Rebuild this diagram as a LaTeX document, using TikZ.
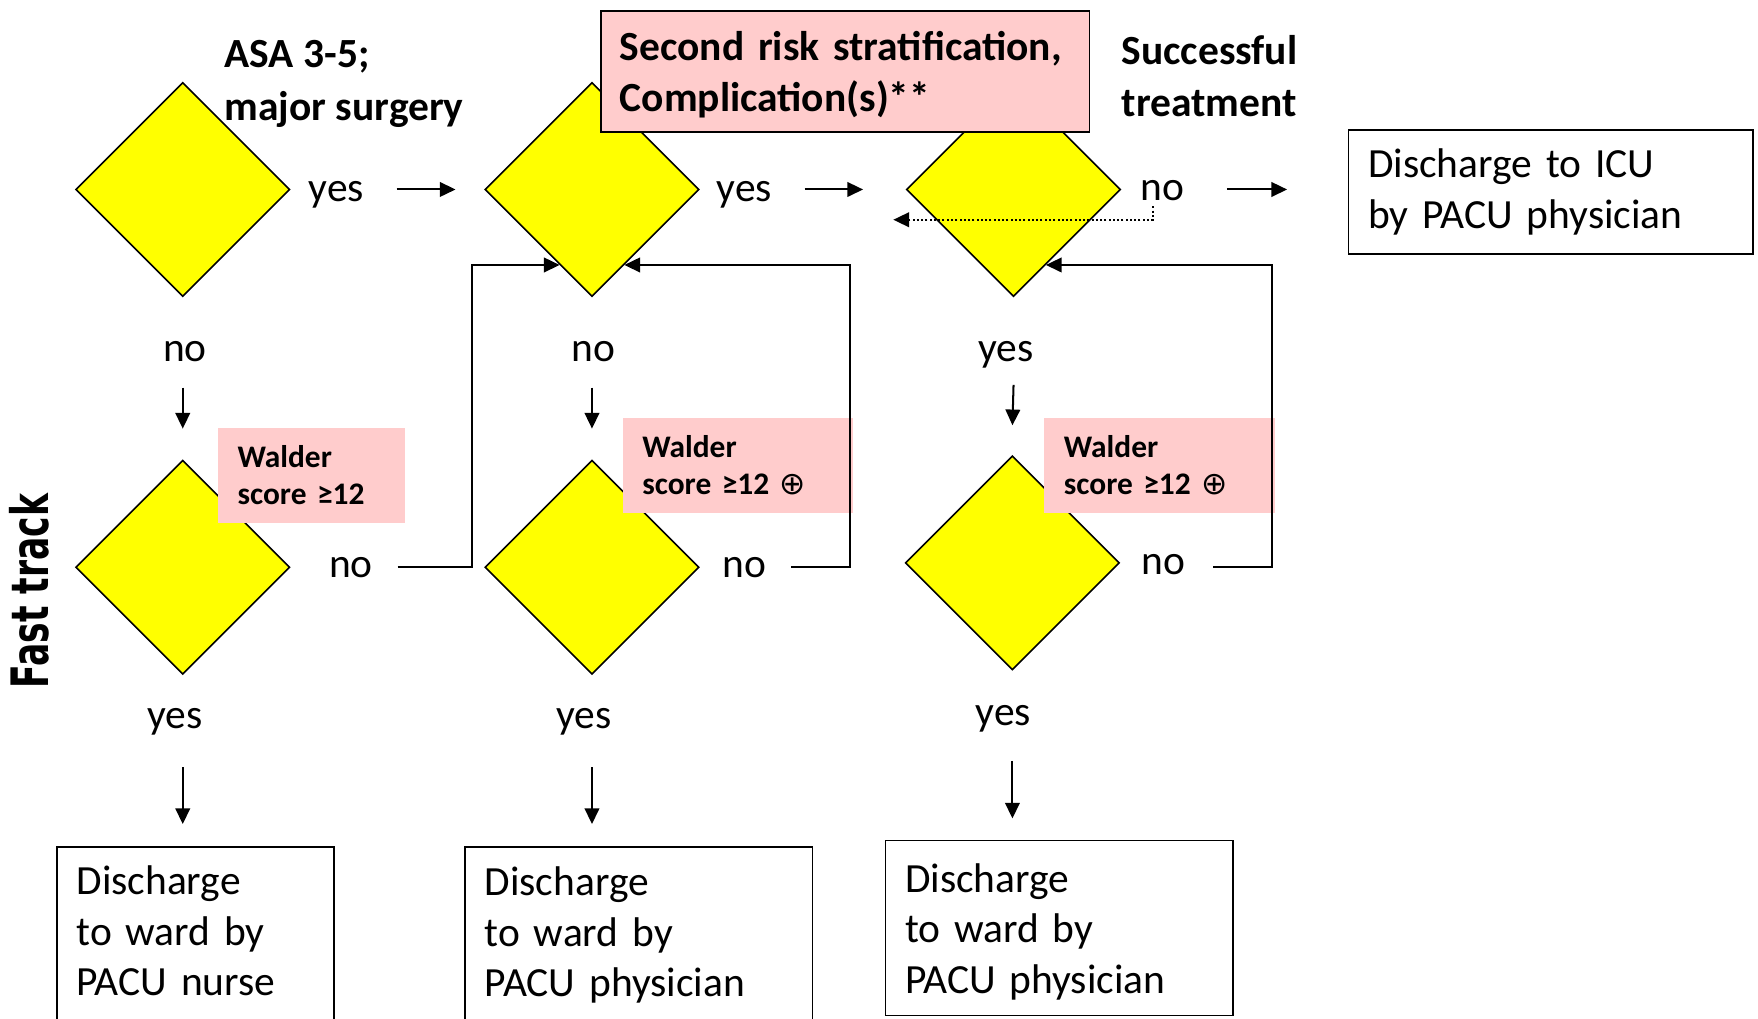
\documentclass[tikz,border=0pt]{standalone}
\usepackage{fontspec}
\usepackage{graphicx}
\setmainfont{Carlito}
\newfontfamily\symbolfont{DejaVu Sans}
\newfontfamily\sidefont{DejaVu Sans}
\usetikzlibrary{shapes.geometric,arrows.meta,calc}
\definecolor{decisionfill}{RGB}{255,255,0}
\definecolor{notefill}{RGB}{255,204,204}
\begin{document}
\begin{tikzpicture}[x=0.5pt,y=-0.5pt,
  decision/.style={diamond,draw=black,line width=0.7pt,fill=decisionfill,
    minimum width=95.5pt,minimum height=95.5pt,inner sep=0pt},
  answer/.style={font=\fontsize{18.5}{22.5}\selectfont,inner sep=0pt,anchor=base},
  heading/.style={font=\fontsize{18.5}{23.5}\selectfont\bfseries,align=left,
    inner sep=0pt,anchor=west},
  note/.style={fill=notefill,font=\fontsize{14}{16.5}\selectfont\bfseries,
    align=left,anchor=north west,inner xsep=8.75pt,inner ysep=0pt,
    minimum height=42.5pt,text width=#1},
  outcome/.style={draw=black,line width=0.75pt,fill=white,
    font=\fontsize{18.5}{22.5}\selectfont,align=left,anchor=north west,
    inner xsep=8.75pt,inner ysep=0pt,text width=#1},
  flow/.style={line width=0.9pt,-{Triangle[length=7pt,width=6.5pt]}},
  dotflow/.style={line width=0.9pt,densely dotted,-{Triangle[length=7pt,width=6.5pt]}}
]
\useasboundingbox (0,0) rectangle (1568,908);

% decision diamonds
\node[decision] (d1) at (163,169) {};
\node[decision] (d2) at (528,169) {};
\node[decision] (d3) at (904,169) {};
\node[decision] (d4) at (163,506) {};
\node[decision] (d5) at (528,506) {};
\node[decision] (d6) at (903,502) {};

% questions and notes
\node[heading] (asa) at (200,75) {ASA 3-5;\\major surgery};
\node[heading] (succ) at (1000,68) {Successful\\treatment};
\node[draw=black,line width=0.8pt,fill=notefill,
      font=\fontsize{18.5}{22.5}\selectfont\bfseries,align=left,anchor=north west,
      inner xsep=8.5pt,inner ysep=0pt,text width=201pt,minimum height=54pt]
  (risk) at (535,9) {\rule{0pt}{16pt}Second risk stratification,\\Complication(s)**};
\node[note=66pt] (w1) at (194,381) {Walder\\score ≥12};
\node[note=85pt] (w2) at (555,372) {Walder\\score ≥12 {\symbolfont\mdseries ⊕}};
\node[note=85.5pt] (w3) at (931,372) {Walder\\score ≥12 {\symbolfont\mdseries ⊕}};

% outcomes
\node[outcome=106pt,minimum height=78.5pt] (o1) at (50,755)
  {Discharge\\to ward by\\PACU nurse\rule[-4pt]{0pt}{1pt}};
\node[outcome=137.5pt,minimum height=78.5pt] (o2) at (414,755)
  {Discharge\\to ward by\\PACU physician};
\node[outcome=137.5pt,minimum height=78pt] (o3) at (789,749)
  {\rule{0pt}{16pt}Discharge\\to ward by\\PACU physician};
\node[outcome=163pt,minimum height=55.5pt] (icu) at (1202,115)
  {Discharge to ICU\\by PACU physician};

% side label
\node[rotate=90,inner sep=0pt,font=\sidefont\bfseries\fontsize{23}{27}\selectfont]
  (track) at (26,527) {\scalebox{0.67}[1]{Fast track}};

% answers
\node[answer] (a1) at (300,180) {yes};
\node[answer] (a2) at (664,180) {yes};
\node[answer] (a3) at (1037,179) {no};
\node[answer] (b1) at (165,322) {no};
\node[answer] (b2) at (529,322) {no};
\node[answer] (b3) at (897,322) {yes};
\node[answer] (c1) at (313,515) {no};
\node[answer] (c2) at (664,515) {no};
\node[answer] (c3) at (1038,512) {no};
\node[answer] (e1) at (156,650) {yes};
\node[answer] (e2) at (521,650) {yes};
\node[answer] (e3) at (895,647) {yes};

% forward arrows
\draw[flow] ($(d1.east)+(94.5,0)$) -- ($(d2.west)+(-25.5,0)$);
\draw[flow] ($(d2.east)+(93.5,0)$) -- ($(d3.west)+(-38,0)$);
\draw[flow] ($(d3.east)+(94,0)$) -- ($(icu.west |- d3.east)+(-54,0)$);
\draw[flow] ($(d1.south)+(0,80.5)$) -- ($(d4.north)+(0,-27.5)$);
\draw[flow] ($(d2.south)+(0,80.5)$) -- ($(d5.north)+(0,-27.5)$);
\draw[flow] ($(d3.south)+(0,78)$) -- ($(d6.north)+(0,-26.5)$);
\draw[flow] ($(d4.south)+(0,82)$) -- ($(o1.north -| d4.south)+(0,-20)$);
\draw[flow] ($(d5.south)+(0,82)$) -- ($(o2.north -| d5.south)+(0,-20)$);
\draw[flow] ($(d6.south)+(0,80.5)$) -- ($(o3.north -| d6.south)+(0,-19)$);

% loops back to the decisions above
\draw[flow] ($(d4.east)+(95.5,0)$) -- ++(66,0) |- ($(d2.west)!0.70!(d2.south)$);
\draw[flow] ($(d5.east)+(81.5,0)$) -- ++(52,0) |- ($(d2.east)!0.70!(d2.south)$);
\draw[flow] ($(d6.east)+(83,4)$) -- ++(52,0) |- ($(d3.east)!0.70!(d3.south)$);

% return after unsuccessful treatment
\draw[dotflow] ($(a3.base)+(-9,5)$) |- ($(d3.west)+(-11,27)$);
\end{tikzpicture}
\end{document}
